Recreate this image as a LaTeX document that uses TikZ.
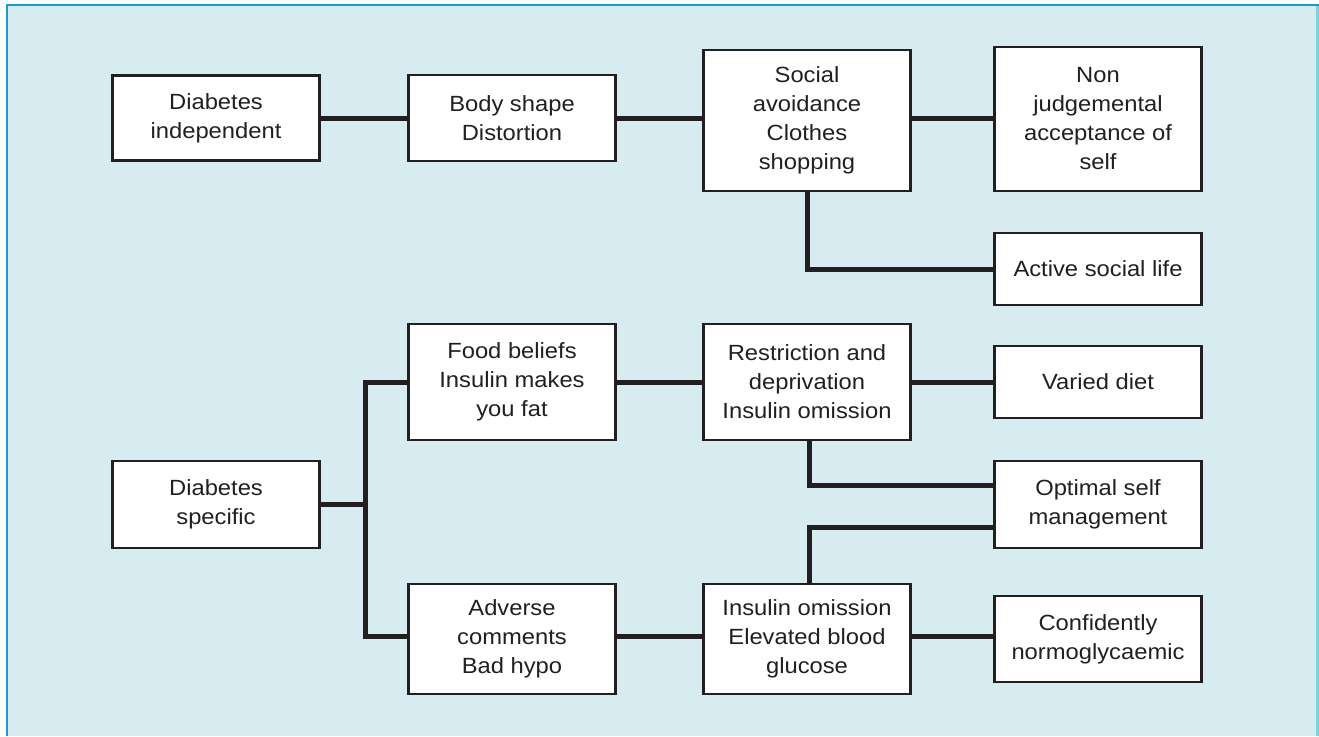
\documentclass[tikz,border=0pt]{standalone}
\usepackage{fontspec}
\setmainfont[FakeStretch=1.08]{Liberation Sans}
\definecolor{ink}{HTML}{231F20}
\definecolor{panel}{HTML}{D7ECF1}
\definecolor{frame}{HTML}{1A9CC0}
\definecolor{frameR}{HTML}{7FD0E0}
\begin{document}
\begin{tikzpicture}[x=1pt,y=-1pt,
  box/.style={draw=ink, line width=2.6pt, fill=white, minimum width=207pt,
    align=center, inner sep=0pt, text=ink, font=\fontsize{22}{29}\selectfont},
  conn/.style={draw=ink, line width=5pt, line join=miter}]
\useasboundingbox (0,0) rectangle (1319,736);
\fill[white] (0,0) rectangle (1319,736);
\fill[panel] (7,5) rectangle (1319,736);
\draw[frame, line width=2.5pt] (6,5) -- (1319,5);
\draw[frame, line width=2.5pt] (7,4) -- (7,736);
\draw[frameR, line width=2.5pt] (1317.5,6) -- (1317.5,736);

% top row
\node[box, minimum height=85pt] (di) at (216,118) {Diabetes\\independent};
\node[box, minimum height=86pt] (bs) at (512,118) {Body shape\\Distortion};
\node[box, minimum height=141pt] (sa) at (807,120.5) {Social\\avoidance\\Clothes\\shopping};
\node[box, minimum height=144pt] (nj) at (1098,119) {Non\\judgemental\\acceptance of\\self};
\node[box, minimum height=72pt] (asl) at (1098,269) {Active social life};

% lower part
\node[box, minimum height=116pt] (fb) at (512,382) {Food beliefs\\Insulin makes\\you fat};
\node[box, minimum height=116pt] (rd) at (807,382) {Restriction and\\deprivation\\Insulin omission};
\node[box, minimum height=72pt] (vd) at (1098,382) {Varied diet};
\node[box, minimum height=87pt] (ds) at (216,504.5) {Diabetes\\specific};
\node[box, minimum height=87pt] (os) at (1098,504.5) {Optimal self\\management};
\node[box, minimum height=110pt] (ac) at (512,639) {Adverse\\comments\\Bad hypo};
\node[box, minimum height=110pt] (io) at (807,639) {Insulin omission\\Elevated blood\\glucose};
\node[box, minimum height=86pt] (cn) at (1098,639) {Confidently\\normoglycaemic};

\coordinate (bus) at (365,504.5);

% connectors
\draw[conn] (di.east) -- (di.east -| bs.west);
\draw[conn] (bs.east) -- (bs.east -| sa.west);
\draw[conn] (bs.east -| sa.east) -- (bs.east -| nj.west);
\draw[conn] (sa.south) |- (asl.west);

\draw[conn] (ds.east) -- (bus);
\draw[conn] (fb.west) -| (bus) |- ([yshift=3pt]ac.west);
\draw[conn] (fb.east) -- (rd.west);
\draw[conn] (rd.east) -- (vd.west);
\draw[conn] ([xshift=2pt]rd.south) |- ([yshift=19.5pt]os.west);
\draw[conn] ([yshift=-22.5pt]os.west) -| ([xshift=2pt]io.north);
\draw[conn] ([yshift=3pt]ac.east) -- ([yshift=3pt]io.west);
\draw[conn] ([yshift=3pt]io.east) -- ([yshift=3pt]cn.west);
\end{tikzpicture}
\end{document}
